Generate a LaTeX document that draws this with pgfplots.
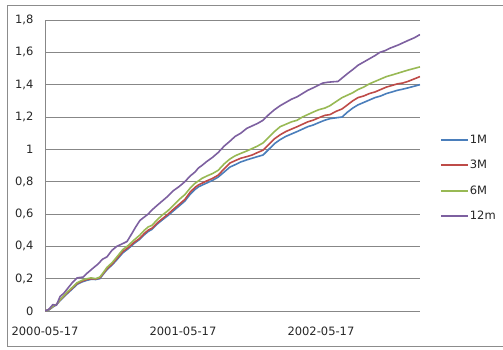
\documentclass[border=0pt]{standalone}
\usepackage{pgfplots}
\pgfplotsset{compat=1.18}
\usepackage{fontspec}
\setmainfont{DejaVu Sans}

\definecolor{serA}{HTML}{4A7EBB}
\definecolor{serB}{HTML}{BE4B48}
\definecolor{serC}{HTML}{98B954}
\definecolor{serD}{HTML}{7D60A0}
\definecolor{gridgray}{HTML}{878787}
\definecolor{framegray}{HTML}{8C8C8C}

% days since 2000-05-17, cumulative value
\pgfplotstableread{
d v
0 0.000
10 0.006
21 0.025
30 0.038
40 0.065
50 0.088
60 0.110
74 0.140
85 0.165
98 0.180
111 0.190
122 0.196
134 0.195
145 0.200
155 0.230
164 0.256
178 0.286
192 0.322
206 0.360
220 0.385
236 0.418
251 0.444
263 0.472
273 0.492
283 0.505
297 0.538
311 0.565
325 0.590
340 0.620
355 0.650
370 0.680
384 0.722
397 0.752
406 0.768
415 0.778
428 0.792
443 0.808
458 0.828
474 0.860
489 0.890
503 0.905
518 0.922
534 0.935
548 0.945
562 0.955
577 0.965
592 1.000
607 1.035
622 1.060
637 1.080
652 1.095
667 1.110
681 1.125
695 1.140
709 1.150
724 1.165
740 1.180
754 1.190
770 1.195
786 1.200
800 1.230
814 1.255
828 1.275
843 1.290
858 1.305
873 1.320
888 1.330
903 1.345
918 1.355
932 1.365
946 1.372
960 1.380
976 1.390
992 1.400
}\tabA

\pgfplotstableread{
d v
0 0.000
10 0.008
21 0.028
30 0.040
40 0.068
50 0.092
60 0.115
74 0.145
85 0.170
98 0.185
111 0.195
122 0.200
134 0.198
145 0.205
155 0.235
164 0.262
178 0.292
192 0.330
206 0.368
220 0.392
236 0.425
251 0.450
263 0.480
273 0.500
283 0.512
297 0.545
311 0.572
325 0.598
340 0.630
355 0.660
370 0.690
384 0.735
397 0.765
406 0.780
415 0.790
428 0.805
443 0.820
458 0.840
474 0.880
489 0.915
503 0.930
518 0.945
534 0.955
548 0.965
562 0.980
577 0.995
592 1.030
607 1.065
622 1.090
637 1.110
652 1.125
667 1.140
681 1.155
695 1.170
709 1.180
724 1.195
740 1.210
754 1.215
770 1.235
786 1.250
800 1.275
814 1.300
828 1.320
843 1.330
858 1.345
873 1.355
888 1.370
903 1.385
918 1.395
932 1.405
946 1.410
960 1.420
976 1.435
992 1.450
}\tabB

\pgfplotstableread{
d v
0 0.000
10 0.008
21 0.030
30 0.040
40 0.070
50 0.095
60 0.120
74 0.150
85 0.175
98 0.190
111 0.200
122 0.205
134 0.200
145 0.210
155 0.240
164 0.270
178 0.300
192 0.340
206 0.380
220 0.405
236 0.440
251 0.470
263 0.500
273 0.520
283 0.530
297 0.565
311 0.595
325 0.620
340 0.655
355 0.690
370 0.720
384 0.760
397 0.790
406 0.805
415 0.820
428 0.835
443 0.850
458 0.870
474 0.910
489 0.940
503 0.960
518 0.975
534 0.990
548 1.005
562 1.020
577 1.040
592 1.075
607 1.110
622 1.140
637 1.155
652 1.170
667 1.180
681 1.200
695 1.215
709 1.230
724 1.245
740 1.255
754 1.270
770 1.295
786 1.320
800 1.335
814 1.350
828 1.370
843 1.385
858 1.405
873 1.420
888 1.435
903 1.450
918 1.460
932 1.470
946 1.480
960 1.490
976 1.500
992 1.510
}\tabC

\pgfplotstableread{
d v
0 0.000
10 0.010
21 0.040
30 0.035
40 0.090
50 0.110
60 0.140
74 0.180
85 0.205
101 0.210
112 0.235
127 0.265
140 0.290
152 0.320
164 0.335
177 0.375
190 0.400
204 0.415
217 0.430
230 0.480
240 0.520
251 0.560
262 0.580
273 0.600
283 0.625
295 0.650
310 0.680
325 0.710
340 0.745
355 0.770
370 0.800
384 0.835
397 0.860
406 0.885
415 0.900
428 0.925
443 0.950
458 0.980
474 1.020
489 1.050
503 1.080
518 1.100
534 1.130
548 1.145
562 1.160
577 1.180
592 1.215
607 1.245
622 1.270
637 1.290
652 1.310
667 1.325
681 1.345
695 1.365
709 1.380
722 1.395
735 1.410
748 1.415
762 1.418
775 1.420
788 1.445
801 1.470
815 1.495
828 1.520
843 1.540
858 1.560
873 1.580
886 1.600
899 1.610
912 1.625
923 1.635
934 1.645
948 1.660
962 1.675
977 1.690
992 1.710
}\tabD

\begin{document}
\begin{tikzpicture}
% page outline and chart frame
\path (0pt,0pt) rectangle (503pt,349pt);
\draw[framegray, line width=0.9pt] (7pt,3pt) -- (7pt,344pt) -- (502.5pt,344pt);
\draw[framegray, line width=0.9pt] (7pt,3pt) -- (502.5pt,3pt);
\begin{axis}[
  at={(45pt,38pt)}, anchor=south west,
  scale only axis, width=375pt, height=291pt,
  xmin=0, xmax=992, ymin=0, ymax=1.8,
  axis x line=bottom, axis y line=left,
  axis line style={draw=gridgray, line width=0.8pt, -},
  ymajorgrids, grid style={draw=gridgray, line width=0.8pt},
  major tick length=0pt,
  ytick={0,0.2,0.4,0.6,0.8,1,1.2,1.4,1.6,1.8},
  xtick={0,365,730},
  xticklabels={2000-05-17,2001-05-17,2002-05-17},
  /pgf/number format/.cd, use comma, fixed, precision=1, assume math mode=true,
  /pgfplots/.cd,
  tick label style={font=\fontsize{11.5}{13}\selectfont, text=black!85},
  yticklabel style={xshift=-8pt},
  xticklabel style={yshift=-12pt},
  legend style={at={(1.053,0.457)}, anchor=west, draw=none, fill=none,
    font=\fontsize{11.5}{13}\selectfont, row sep=13.3pt,
    inner xsep=0pt, inner ysep=0pt, nodes={inner sep=1pt, text=black!85}},
  legend cell align=left,
  legend image code/.code={\draw[#1, line width=1.8pt] (0pt,0pt) -- (27pt,0pt);},
  every axis plot/.append style={line width=1.6pt, line join=round},
]
\addplot[serA] table[x=d, y=v] {\tabA};
\addlegendentry{1M}
\addplot[serB] table[x=d, y=v] {\tabB};
\addlegendentry{3M}
\addplot[serC] table[x=d, y=v] {\tabC};
\addlegendentry{6M}
\addplot[serD] table[x=d, y=v] {\tabD};
\addlegendentry{12m}
\end{axis}
\end{tikzpicture}
\end{document}
